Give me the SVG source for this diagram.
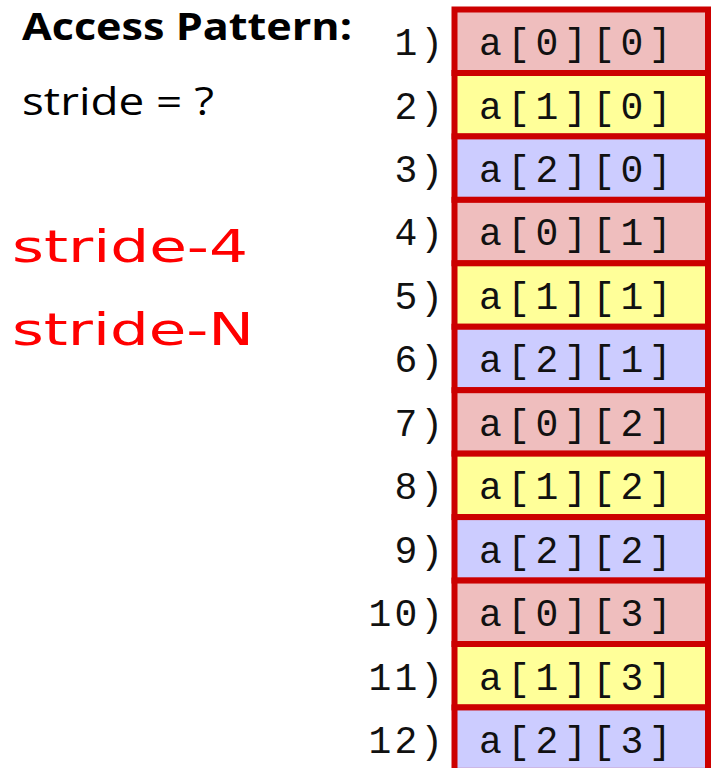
<svg xmlns="http://www.w3.org/2000/svg" width="719" height="768" viewBox="0 0 719 768">
<style>
.cell{stroke:#CC0000;stroke-width:6}
.p{fill:#EFBEBE}.y{fill:#FFFF99}.b{fill:#CCCCFF}
.t{font-family:"Liberation Mono","Courier New",monospace;font-size:38px;letter-spacing:5.5px;fill:#111}
.n{font-family:"Liberation Mono","Courier New",monospace;font-size:38px;letter-spacing:3px;fill:#111;text-anchor:end}
.h{font-family:"Open Sans","Liberation Sans",Arial,sans-serif;fill:#000}
.hw{font-family:"DejaVu Sans",sans-serif;font-size:44px;fill:#FF0000}
</style>
<g id="title">
<text class="h" x="22" y="40" font-size="37" font-weight="bold" textLength="330" lengthAdjust="spacingAndGlyphs">Access Pattern:</text>
<text class="h" x="22" y="115" font-size="39" textLength="192" lengthAdjust="spacingAndGlyphs">stride = ?</text>
</g>
<g id="notes">
<text class="hw" x="12" y="262" textLength="236" lengthAdjust="spacingAndGlyphs">stride-4</text>
<text class="hw" x="12" y="345" textLength="242" lengthAdjust="spacingAndGlyphs">stride-N</text>
</g>
<g id="cell1"><rect class="cell p" x="454.5" y="9.5" width="253.5" height="63.5"/><text class="n" x="446" y="55">1)</text><text class="t" x="479" y="55">a[0][0]</text></g>
<g id="cell2"><rect class="cell y" x="454.5" y="73" width="253.5" height="63.45"/><text class="n" x="446" y="118.5">2)</text><text class="t" x="479" y="118.5">a[1][0]</text></g>
<g id="cell3"><rect class="cell b" x="454.5" y="136.4" width="253.5" height="63.45"/><text class="n" x="446" y="182">3)</text><text class="t" x="479" y="182">a[2][0]</text></g>
<g id="cell4"><rect class="cell p" x="454.5" y="199.85" width="253.5" height="63.45"/><text class="n" x="446" y="245.4">4)</text><text class="t" x="479" y="245.4">a[0][1]</text></g>
<g id="cell5"><rect class="cell y" x="454.5" y="263.3" width="253.5" height="63.45"/><text class="n" x="446" y="308.8">5)</text><text class="t" x="479" y="308.8">a[1][1]</text></g>
<g id="cell6"><rect class="cell b" x="454.5" y="326.75" width="253.5" height="63.45"/><text class="n" x="446" y="372.3">6)</text><text class="t" x="479" y="372.3">a[2][1]</text></g>
<g id="cell7"><rect class="cell p" x="454.5" y="390.2" width="253.5" height="63.45"/><text class="n" x="446" y="435.7">7)</text><text class="t" x="479" y="435.7">a[0][2]</text></g>
<g id="cell8"><rect class="cell y" x="454.5" y="453.65" width="253.5" height="63.45"/><text class="n" x="446" y="499.2">8)</text><text class="t" x="479" y="499.2">a[1][2]</text></g>
<g id="cell9"><rect class="cell b" x="454.5" y="517.1" width="253.5" height="63.45"/><text class="n" x="446" y="562.6">9)</text><text class="t" x="479" y="562.6">a[2][2]</text></g>
<g id="cell10"><rect class="cell p" x="454.5" y="580.55" width="253.5" height="63.45"/><text class="n" x="446" y="626.1">10)</text><text class="t" x="479" y="626.1">a[0][3]</text></g>
<g id="cell11"><rect class="cell y" x="454.5" y="644" width="253.5" height="63.45"/><text class="n" x="446" y="689.5">11)</text><text class="t" x="479" y="689.5">a[1][3]</text></g>
<g id="cell12"><rect class="cell b" x="454.5" y="707.45" width="253.5" height="63.45"/><text class="n" x="446" y="753">12)</text><text class="t" x="479" y="753">a[2][3]</text></g>
</svg>
